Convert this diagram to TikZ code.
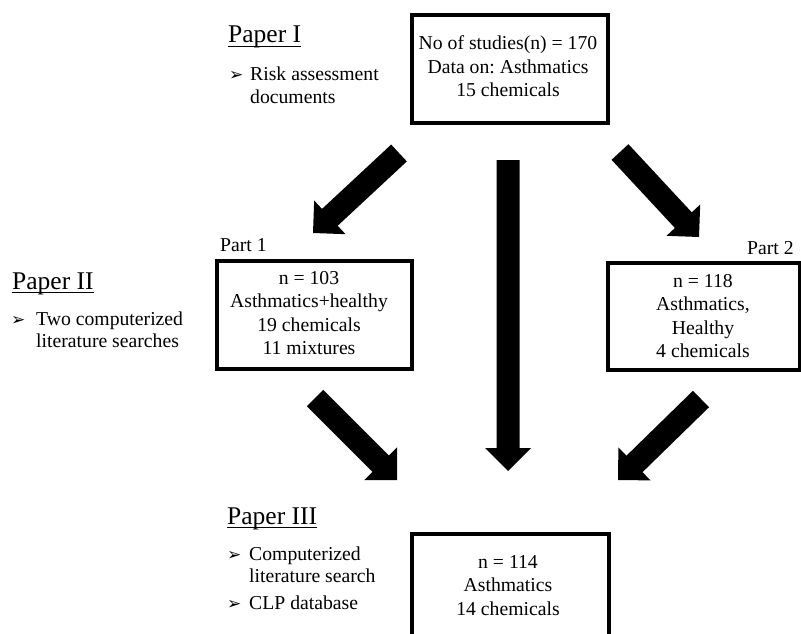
\documentclass[tikz,border=0pt]{standalone}
\usepackage{fontspec}
\setmainfont{Liberation Serif}
\newfontfamily\symfont{DejaVu Sans}
\usetikzlibrary{calc}
\frenchspacing
\newcommand\tl[2]{\begin{tabular}[t]{@{}#1@{}}#2\end{tabular}}
\newcommand\blockarrow[2]{%
  \coordinate (#2h) at ($(#2)!23pt!(#1)$);
  \fill[black] ($(#1)!11.5pt!90:(#2)$) -- ($(#2h)!11.5pt!90:(#2)$) -- ($(#2h)!23pt!90:(#2)$)
    -- (#2) -- ($(#2h)!23pt!-90:(#2)$) -- ($(#2h)!11.5pt!-90:(#2)$) -- ($(#1)!11.5pt!-90:(#2)$) -- cycle;}
\tikzset{
  box/.style={draw=black, line width=3.8pt, inner sep=0pt, anchor=north west},
  body/.style={inner sep=0pt, font=\fontsize{19.7}{23.5}\selectfont},
  blist/.style={inner sep=0pt, font=\fontsize{19.7}{22.5}\selectfont, anchor=base west},
  head/.style={inner sep=0pt, font=\fontsize{25.5}{30}\selectfont, anchor=base west},
  bul/.style={inner sep=0pt, font=\symfont\fontsize{17}{19}\selectfont, anchor=base west},
  ul/.style={line width=1.3pt}
}
\begin{document}
\frenchspacing
\begin{tikzpicture}[x=1pt,y=-1pt]
\useasboundingbox (0,0) rectangle (801,634);
\begin{scope}
\clip (0,0) rectangle (801,634);
% boxes
\node[box, minimum width=196pt, minimum height=108pt] (b0) at (410,13) {};
\node[box, minimum width=195pt, minimum height=108pt] (b1) at (215,259) {};
\node[box, minimum width=192pt, minimum height=107pt] (b2) at (606,261) {};
\node[box, minimum width=197pt, minimum height=130pt] (b3) at (410,532) {};
\end{scope}
% box texts
\node[body, anchor=base] (t0) at (508,50) {\tl{c}{No of studies(n) = 170\\Data on: Asthmatics\\15 chemicals}};
\node[body, anchor=base] (t1) at (309,284) {\tl{c}{n = 103\\Asthmatics+healthy\\19 chemicals\\11 mixtures}};
\node[body, anchor=base] (t2) at (703,287) {\tl{c}{n = 118\\Asthmatics,\\Healthy\\4 chemicals}};
\node[body, anchor=base] (t3) at (508,568) {\tl{c}{n = 114\\Asthmatics\\14 chemicals}};
% part labels
\node[body, anchor=base west] (p1) at (220,251) {Part 1};
\node[body, anchor=base west] (p2) at (747,254) {Part 2};
% headings
\node[head] (h1) at (228,43) {Paper I};
\node[head] (h2) at (12,289) {Paper II};
\node[head] (h3) at (227,524) {Paper III};
\draw[ul] ([yshift=-3.5pt]h1.base west) -- ([yshift=-3.5pt]h1.base east);
\draw[ul] ([yshift=-3.5pt]h2.base west) -- ([yshift=-3.5pt]h2.base east);
\draw[ul] ([yshift=-3.5pt]h3.base west) -- ([yshift=-3.5pt]h3.base east);
% bullets
\node[bul] (k1) at (229,81) {➢};
\node[blist] (l1) at (250,81) {\tl{l}{Risk assessment\\documents}};
\node[bul] (k2) at (11,325) {➢};
\node[blist] (l2) at (36,325) {\tl{l}{Two computerized\\literature searches}};
\node[bul] (k3) at (227,560) {➢};
\node[blist] (l3) at (249,560) {\tl{l}{Computerized\\literature search}};
\node[bul] (k4) at (227,609) {➢};
\node[blist] (l4) at (249,609) {CLP database};
% arrows
\coordinate (a1s) at (399,153); \coordinate (a1e) at (313,233);
\coordinate (a2s) at (620,152); \coordinate (a2e) at (699,237);
\coordinate (a3s) at (508,160); \coordinate (a3e) at (508,471);
\coordinate (a4s) at (315,398); \coordinate (a4e) at (397,480);
\coordinate (a5s) at (701,399); \coordinate (a5e) at (618,480);
\blockarrow{a1s}{a1e}
\blockarrow{a2s}{a2e}
\blockarrow{a3s}{a3e}
\blockarrow{a4s}{a4e}
\blockarrow{a5s}{a5e}
\end{tikzpicture}
\end{document}
